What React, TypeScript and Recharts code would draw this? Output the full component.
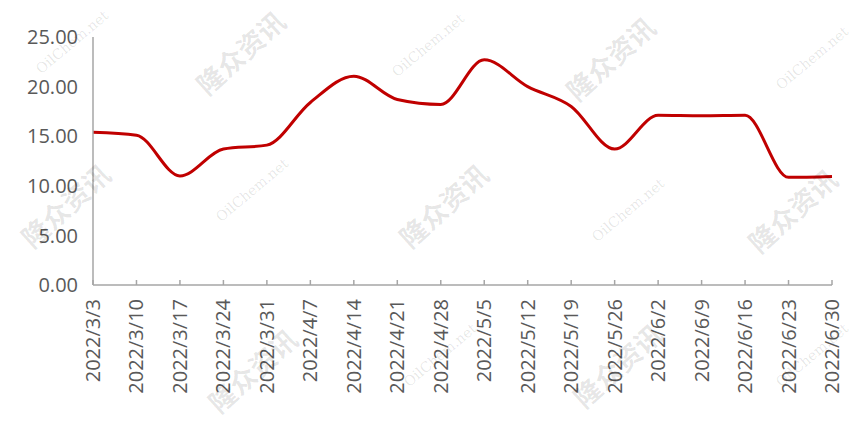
import React from "react";
import { LineChart, Line, XAxis, YAxis } from "recharts";

const categories = [
  "2022/3/3", "2022/3/10", "2022/3/17", "2022/3/24", "2022/3/31", "2022/4/7",
  "2022/4/14", "2022/4/21", "2022/4/28", "2022/5/5", "2022/5/12", "2022/5/19",
  "2022/5/26", "2022/6/2", "2022/6/9", "2022/6/16", "2022/6/23", "2022/6/30",
];
const values = [
  15.4, 15.1, 11.0, 13.7, 14.1, 18.4,
  21.05, 18.7, 18.2, 22.7, 20.0, 18.0,
  13.7, 17.1, 17.05, 17.1, 10.85, 10.95,
];
const yTicks = [0, 5, 10, 15, 20, 25];

const data = categories.map((c, i) => ({ date: c, value: values[i] }));

const cnMarks: [number, number][] = [
  [240, 52], [65, 205], [443, 205], [610, 58], [792, 210], [252, 370], [617, 365],
];
const enMarks: [number, number][] = [
  [72, 42], [252, 190], [428, 45], [628, 210], [812, 58], [440, 355], [812, 355],
];

const XTick = (props: any) => {
  const { x, y, payload } = props;
  return (
    <g transform={`translate(${x},${y})`}>
      <text
        transform="rotate(-90)"
        textAnchor="end"
        dy="0.35em"
        fill="#595959"
        fontSize={20}
        fontFamily="'Open Sans', 'Noto Sans', sans-serif"
      >
        {payload.value}
      </text>
    </g>
  );
};

export default function App() {
  return (
    <div style={{ position: "absolute", left: 0, top: 0, width: 856, height: 427, background: "#fff" }}>
      <LineChart
        width={856}
        height={427}
        data={data}
        margin={{ top: 37, right: 24, bottom: 12, left: 0 }}
      >
        <XAxis
          dataKey="date"
          interval={0}
          height={130}
          tick={<XTick />}
          tickSize={-5}
          tickMargin={19}
          stroke="#a6a6a6"
          axisLine={{ stroke: "#a6a6a6", strokeWidth: 1.5 }}
          tickLine={{ stroke: "#a6a6a6", strokeWidth: 1.5 }}
        />
        <YAxis
          domain={[0, 25]}
          ticks={yTicks}
          width={93}
          tickLine={false}
          tickMargin={9}
          axisLine={{ stroke: "#a6a6a6", strokeWidth: 1.5 }}
          tick={{ fill: "#595959", fontSize: 20, fontFamily: "'Open Sans', 'Noto Sans', sans-serif" }}
          tickFormatter={(v: number) => v.toFixed(2)}
        />
        <Line
          type="monotone"
          dataKey="value"
          stroke="#C00000"
          strokeWidth={3}
          dot={false}
          isAnimationActive={false}
        />
      </LineChart>
      <svg
        width={856}
        height={427}
        style={{ position: "absolute", left: 0, top: 0, pointerEvents: "none" }}
      >
        {cnMarks.map(([x, y], i) => (
          <text
            key={"c" + i}
            x={x}
            y={y}
            transform={`rotate(-42 ${x} ${y})`}
            textAnchor="middle"
            dominantBaseline="central"
            fontSize={27}
            fontWeight={700}
            fontFamily="'Noto Sans CJK SC', sans-serif"
            fill="#000"
            fillOpacity={0.1}
          >
            隆众资讯
          </text>
        ))}
        {enMarks.map(([x, y], i) => (
          <text
            key={"e" + i}
            x={x}
            y={y}
            transform={`rotate(-40 ${x} ${y})`}
            textAnchor="middle"
            dominantBaseline="central"
            fontSize={14}
            fontFamily="'DejaVu Serif', serif"
            fill="#000"
            fillOpacity={0.1}
          >
            OilChem.net
          </text>
        ))}
      </svg>
    </div>
  );
}
